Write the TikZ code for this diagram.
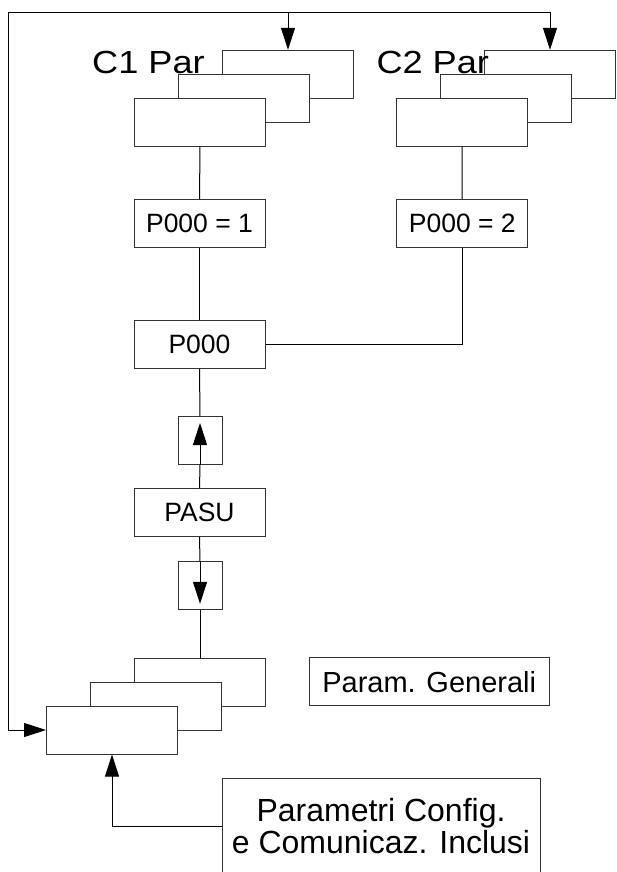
\documentclass[tikz,border=0pt]{standalone}
\usepackage{fontspec}
\setmainfont{Liberation Sans}
\usetikzlibrary{arrows.meta}

\begin{document}
\begin{tikzpicture}[x=1pt, y=-1pt, line width=1pt,
    box/.style={draw=black!80, fill=white, inner sep=0pt, minimum width=131pt, minimum height=48pt},
    small/.style={box, font=\fontsize{26.5}{31}\selectfont},
    big/.style={anchor=base west, inner sep=0pt, font=\fontsize{32}{36}\selectfont},
    arrbox/.style={draw=black!80, fill=white, inner sep=0pt, minimum width=44pt, minimum height=48pt},
    arr/.style={-{Triangle[length=22pt, width=14pt]}}]
        \useasboundingbox (0,0) rectangle (617,872);

        % C1 stack
        \node[box] (c1b) at (288,74.3) {};
        \node[box] (c1m) at (244,98.3) {};
        \node[box] (c1f) at (200,122.3) {};
        \node[big] (c1t) at (91.7,73.3) {\scalebox{1.13}[1]{C1 Par}};

        % C2 stack
        \node[box] (c2b) at (550,74.3) {};
        \node[box] (c2m) at (506,98.3) {};
        \node[box] (c2f) at (462,122.3) {};
        \node[big] (c2t) at (376,73.3) {\scalebox{1.13}[1]{C2 Par}};

        % bottom stack
        \node[box] (gb) at (200,682) {};
        \node[box] (gm) at (156,706) {};
        \node[box] (gf) at (112,730) {};

        \node[small] (p1) at (199.5,223.7) {P000 = 1};
        \node[small] (p2) at (462.3,223.7) {P000 = 2};
        \node[small] (p0) at (199.5,344.3) {P000};
        \node[arrbox] (up) at (200,440.5) {};
        \node[small] (pasu) at (199.5,512.7) {PASU};
        \node[arrbox] (dn) at (200,585.3) {};

        \node[box, minimum width=240pt, font=\fontsize{29}{34}\selectfont] (gen) at (429.2,681.9) {Param. Generali};
        \node[box, minimum width=318pt, minimum height=95pt, align=center, font=\fontsize{32}{32.5}\selectfont] (pc) at (381,826) {Parametri Config.\\e Comunicaz. Inclusi};

        \coordinate (tl) at (8.7,12.3);

        \draw (c1f) -- (p1);
        \draw (p1) -- (p0);
        \draw (p0) -- (up);
        \draw (up) -- (pasu);
        \draw (pasu) -- (dn);
        \draw (dn) -- (gb);
        \draw (c2f) -- (p2);
        \draw (p0.east) -| (p2.south);

        \draw[arr] (up.south) -- ([yshift=-7pt]up.north);
        \draw[arr] (dn.north) -- ([yshift=6pt]dn.south);

        \draw[arr] (tl) |- (gf.west);
        \draw[arr] (tl) -| (c2b.north);
        \draw[arr] (c1b.north |- tl) -- (c1b.north);
        \draw[arr] (pc.west) -| (gf.south);
\end{tikzpicture}
\end{document}
